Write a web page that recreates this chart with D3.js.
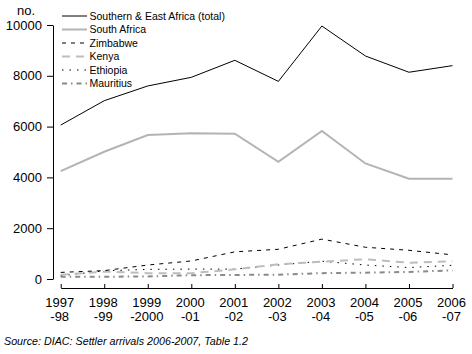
<!DOCTYPE html>
<html><head><meta charset="utf-8">
<script src="https://cdn.jsdelivr.net/npm/d3@7"></script>
<style>
html,body{margin:0;padding:0;background:#fff;}
svg{display:block;font-family:"Liberation Sans",Arial,sans-serif;}
</style></head>
<body><svg id="c" width="472" height="354"></svg>
<script>
const yearTop = ["1997","1998","1999","2000","2001","2002","2003","2004","2005","2006"];
const yearBottom = ["-98","-99","-2000","-01","-02","-03","-04","-05","-06","-07"];
const yTicks = [0, 2000, 4000, 6000, 8000, 10000];

const total = [6060, 7020, 7600, 7940, 8610, 7780, 9960, 8780, 8140, 8400];
const southAfrica = [4250, 5010, 5670, 5740, 5720, 4610, 5830, 4550, 3950, 3950];
const zimbabwe = [260, 330, 550, 710, 1070, 1170, 1570, 1250, 1130, 950];
const kenya = [170, 290, 230, 230, 380, 580, 680, 780, 640, 700];
const ethiopia = [130, 320, 380, 390, 390, 550, 700, 550, 450, 540];
const mauritius = [90, 90, 100, 150, 160, 170, 230, 250, 280, 340];

const seriesNames = ["Southern & East Africa (total)","South Africa","Zimbabwe","Kenya","Ethiopia","Mauritius"];

const series = [
  {name: seriesNames[0], values: total, color: "#000", width: 1, dash: null},
  {name: seriesNames[1], values: southAfrica, color: "#b4b4b4", width: 2, dash: null},
  {name: seriesNames[2], values: zimbabwe, color: "#000", width: 1, dash: "4,5"},
  {name: seriesNames[3], values: kenya, color: "#bdbdbd", width: 2, dash: "8,6"},
  {name: seriesNames[4], values: ethiopia, color: "#000", width: 1, dash: "1.5,6"},
  {name: seriesNames[5], values: mauritius, color: "#8a8a8a", width: 2, dash: "5,4,1.5,4"}
];

const svg = d3.select("#c");
const x = d3.scalePoint().domain(yearTop).range([60.7, 452.5]);
const y = d3.scaleLinear().domain([0, 10000]).range([279, 25]);

// y axis
const ya = svg.append("g").attr("transform","translate(53,0)")
  .call(d3.axisLeft(y).tickValues(yTicks).tickSize(6).tickSizeOuter(0).tickPadding(5).tickFormat(d3.format("d")));
ya.selectAll("text").attr("font-size", 13).attr("font-family","Liberation Sans, Arial, sans-serif").attr("fill","#000");
ya.selectAll("line,path").attr("stroke","#000");

// x axis
const xa = svg.append("g").attr("transform","translate(0,288)")
  .call(d3.axisBottom(x).tickSize(-4).tickSizeOuter(0).tickFormat(""));
xa.selectAll("line,path").attr("stroke","#000");
const lab = svg.append("g").attr("font-size", 13).attr("text-anchor","middle").attr("fill","#000");
yearTop.forEach((t, i) => {
  const tx = lab.append("text").attr("x", x(t) - 1).attr("y", 306.5);
  tx.append("tspan").attr("x", x(t) - 1).text(t);
  tx.append("tspan").attr("x", x(t) - 1).attr("dy", 14.2).text(yearBottom[i]);
});

// "no." label
svg.append("text").attr("x", 26).attr("y", 15).attr("text-anchor","middle").attr("font-size", 13).text("no.");

// lines
const line = d3.line().x((d, i) => x(yearTop[i])).y(d => y(d));
series.slice().reverse().forEach(s => {
  svg.append("path").datum(s.values).attr("d", line)
    .attr("fill","none").attr("stroke", s.color).attr("stroke-width", s.width)
    .attr("stroke-dasharray", s.dash);
});

// legend
const lg = svg.append("g");
series.forEach((s, i) => {
  const ly = 16 + i * 13.5;
  lg.append("line").attr("x1", 62).attr("x2", 87).attr("y1", ly).attr("y2", ly)
    .attr("stroke", s.color).attr("stroke-width", s.width).attr("stroke-dasharray", s.dash);
  lg.append("text").attr("x", 89.5).attr("y", ly + 3.8).attr("font-size", 10.5).text(s.name);
});

// source
svg.append("text").attr("x", 4).attr("y", 345).attr("font-size", 10).attr("font-style","italic")
  .attr("textLength", 244).attr("lengthAdjust","spacingAndGlyphs")
  .text("Source: DIAC: Settler arrivals 2006-2007, Table 1.2");
</script></body></html>
